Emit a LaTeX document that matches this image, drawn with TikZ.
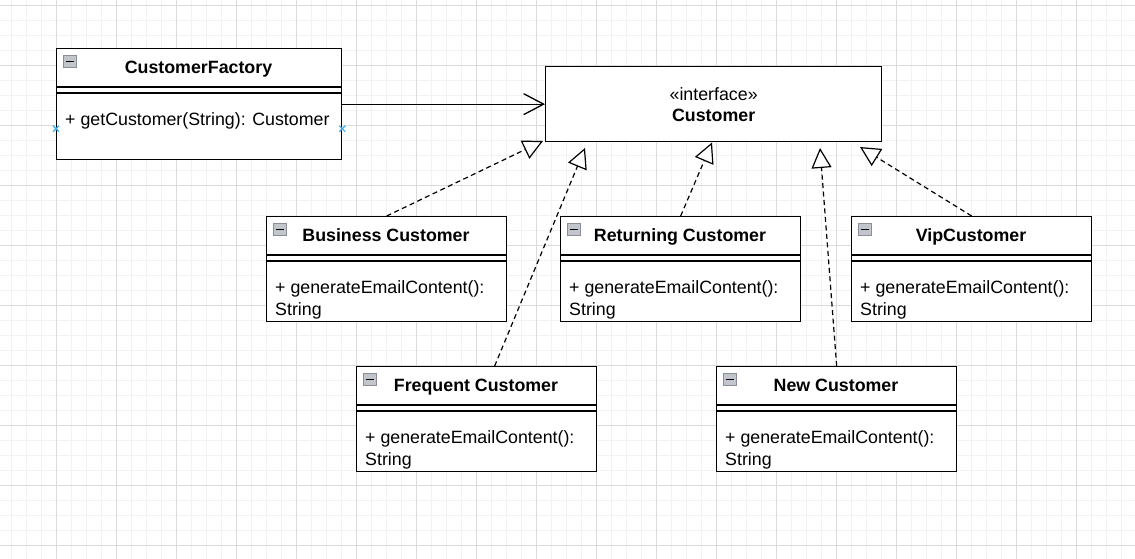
\documentclass[tikz,border=0pt]{standalone}
\usepackage{fontspec}
\setmainfont{Liberation Sans}
\usepackage{xcolor}
\usepackage{tikz}
\usetikzlibrary{arrows.meta}

\definecolor{gridminor}{HTML}{F2F2F2}
\definecolor{gridmajor}{HTML}{DBDBDB}
\definecolor{pinblue}{HTML}{39ACEB}
\definecolor{iconfill}{HTML}{C2C6CC}
\definecolor{iconline}{HTML}{8A8F97}

\begin{document}
\begin{tikzpicture}[x=1pt, y=-1pt,
	classbox/.style={draw, line width=1.3pt, fill=white, anchor=north west, inner sep=0pt},
	classtitle/.style={font=\fontsize{17.8}{21}\selectfont\bfseries, text height=12.7pt, text depth=0pt, inner sep=0pt},
	classtext/.style={font=\fontsize{17.8}{22}\selectfont, align=left, inner sep=0pt},
	minusicon/.style={draw=iconline, fill=iconfill, line width=0.9pt},
	realize/.style={line width=1.2pt, dash pattern=on 5pt off 3.5pt, -{Triangle[fill=white, length=20pt, width=20pt]}},
	uses/.style={line width=1.3pt, -{Straight Barb[length=20pt, width=21pt]}},
	pin/.style={pinblue, line width=1.2pt}]
	\useasboundingbox (0,0) rectangle (1135,558);
	\fill[white] (0,0) rectangle (1135,558);
	\begin{scope}[shift={(56.5,5)}]
		\draw[gridminor, line width=1pt, step=15pt] (-60,555) grid (1080,-60);
		\draw[gridmajor, line width=1pt, step=60pt] (-60,555) grid (1080,-60);
	\end{scope}

	\node[classbox, minimum width=285pt, minimum height=111pt] (factory) at (56,48) {};
	\draw[line width=1.3pt] (factory.north west) ++(0,39) -- ++(285,0) ++(-285,6) -- ++(285,0);
	\draw[minusicon] (factory.north west) ++(7,7.5) rectangle ++(13,12);
	\draw[line width=1.3pt] (factory.north west) ++(9.5,13.5) -- ++(8,0);
	\node[classtitle] (factory-title) at (198.5,67.5) {CustomerFactory};
	\node[classtext, anchor=base west] (factory-ops) at (65,125) {+ getCustomer(String): Customer};
	\foreach \a in {west, east}
		\draw[pin] ([yshift=-24.5pt]factory.\a) +(-3,-3) -- +(3,3) +(-3,3) -- +(3,-3);

	\node[classbox, minimum width=336pt, minimum height=75pt, align=center, font=\fontsize{17.8}{21}\selectfont] (customer) at (545,66) {«interface»\\\textbf{Customer}};

	\foreach \n/\x/\y/\t in {business/266/216/Business Customer, returning/560/216/Returning Customer, vip/851/216/VipCustomer, frequent/356/366/Frequent Customer, newcust/716/366/New Customer}{
		\node[classbox, minimum width=240pt, minimum height=105pt] (\n) at (\x,\y) {};
		\draw[line width=1.3pt] (\n.north west) ++(0,39) -- ++(240,0) ++(-240,6) -- ++(240,0);
		\draw[minusicon] (\n.north west) ++(7,7.5) rectangle ++(13,12);
		\draw[line width=1.3pt] (\n.north west) ++(9.5,13.5) -- ++(8,0);
		\node[classtitle] (\n-title) at (\x+120,\y+19.5) {\t};
		\node[classtext, anchor=north west] (\n-ops) at (\x+9,\y+61.5) {\strut+ generateEmailContent():\\String};
	}

	\coordinate (tip-business) at (543,141);
	\coordinate (tip-frequent) at (585,148);
	\coordinate (tip-returning) at (712,142.5);
	\coordinate (tip-newcust) at (820,148);
	\coordinate (tip-vip) at (860,147);

	\draw[uses] (factory.east) -- (customer.west);
	\foreach \n in {business, returning, newcust, vip}
		\draw[realize] (\n.north) -- (tip-\n);
	\draw[realize] ([xshift=18pt]frequent.north) -- (tip-frequent);
\end{tikzpicture}
\end{document}
